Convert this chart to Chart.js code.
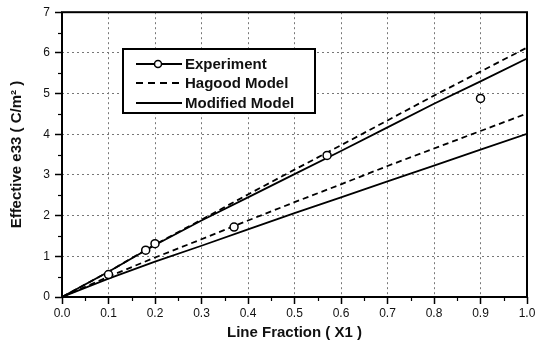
<!DOCTYPE html>
<html><head><meta charset="utf-8">
<script src="https://cdn.jsdelivr.net/npm/chart.js@4/dist/chart.umd.min.js"></script>
<style>html,body{margin:0;padding:0;background:#fff}#wrap{width:538px;height:350px}</style>
</head><body><div id="wrap"><canvas id="c" width="538" height="350"></canvas></div>
<script>
// Data
const lineFraction = [0, 0.1, 0.2, 0.3, 0.4, 0.5, 0.6, 0.7, 0.8, 0.9, 1.0];
const hagoodUpper   = [0, 0.62, 1.29, 1.90, 2.52, 3.13, 3.73, 4.34, 4.95, 5.54, 6.13];
const modifiedUpper = [0, 0.62, 1.28, 1.88, 2.45, 3.02, 3.59, 4.17, 4.75, 5.30, 5.86];
const hagoodLower   = [0, 0.50, 0.97, 1.42, 1.88, 2.33, 2.77, 3.22, 3.65, 4.08, 4.51];
const modifiedLower = [0, 0.45, 0.87, 1.26, 1.66, 2.06, 2.45, 2.84, 3.23, 3.62, 4.01];
const expX = [0.10, 0.18, 0.20, 0.37, 0.57, 0.90];
const expY = [0.55, 1.15, 1.31, 1.72, 3.48, 4.88];
const xTickLabels = ['0.0','0.1','0.2','0.3','0.4','0.5','0.6','0.7','0.8','0.9','1.0'];
const yTickLabels = ['0','1','2','3','4','5','6','7'];
const legendLabels = ['Experiment', 'Hagood Model', 'Modified Model'];

const pts = (xs, ys) => xs.map((x, i) => ({x: x, y: ys[i]}));

const framePlugin = {
  id: 'frameAndLegend',
  afterDatasetsDraw(chart) {
    const {ctx, chartArea: a, scales: {x, y}} = chart;
    ctx.save();
    // minor ticks
    ctx.strokeStyle = '#000'; ctx.lineWidth = 1.2; ctx.setLineDash([]);
    for (let v = 0.05; v < 1; v += 0.1) {
      const px = Math.round(x.getPixelForValue(v)) + 0.5;
      ctx.beginPath(); ctx.moveTo(px, a.bottom); ctx.lineTo(px, a.bottom + 4); ctx.stroke();
    }
    for (let v = 0.5; v < 7; v += 1) {
      const py = Math.round(y.getPixelForValue(v)) + 0.5;
      ctx.beginPath(); ctx.moveTo(a.left - 4, py); ctx.lineTo(a.left, py); ctx.stroke();
    }
    // frame
    ctx.lineWidth = 2; ctx.strokeStyle = '#000';
    ctx.strokeRect(a.left, a.top, a.right - a.left, a.bottom - a.top);
    // legend
    const bx = 123, by = 49, bw = 192, bh = 64;
    ctx.fillStyle = '#fff'; ctx.fillRect(bx, by, bw, bh);
    ctx.strokeRect(bx, by, bw, bh);
    const rows = [64, 83, 103];
    const x0 = 136, x1 = 182;
    ctx.lineWidth = 1.8;
    // experiment
    ctx.beginPath(); ctx.moveTo(x0, rows[0]); ctx.lineTo(x1, rows[0]); ctx.stroke();
    ctx.beginPath(); ctx.arc(158, rows[0], 3.5, 0, Math.PI * 2);
    ctx.fillStyle = '#fff'; ctx.fill(); ctx.lineWidth = 1.5; ctx.stroke();
    // hagood
    ctx.lineWidth = 1.8; ctx.setLineDash([7, 5]);
    ctx.beginPath(); ctx.moveTo(x0, rows[1]); ctx.lineTo(x1, rows[1]); ctx.stroke();
    ctx.setLineDash([]);
    ctx.beginPath(); ctx.moveTo(x0, rows[2]); ctx.lineTo(x1, rows[2]); ctx.stroke();
    ctx.fillStyle = '#111';
    ctx.font = 'bold 15px "Liberation Sans", Arial, sans-serif';
    ctx.textBaseline = 'middle'; ctx.textAlign = 'left';
    legendLabels.forEach((t, i) => ctx.fillText(t, 185, rows[i] + 1));
    ctx.restore();
  }
};

const solid = {borderColor: '#000', borderWidth: 1.8, pointRadius: 0, fill: false, tension: 0};
const dashed = Object.assign({}, solid, {borderDash: [6, 4]});

new Chart(document.getElementById('c'), {
  type: 'line',
  data: {
    datasets: [
      {label: legendLabels[0], data: pts(expX, expY), showLine: false, pointRadius: 4,
       pointBorderWidth: 1.5, pointBorderColor: '#000', pointBackgroundColor: '#fff', borderColor: '#000'},
      Object.assign({label: legendLabels[1], data: pts(lineFraction, hagoodUpper)}, dashed),
      Object.assign({label: legendLabels[1], data: pts(lineFraction, hagoodLower)}, dashed),
      Object.assign({label: legendLabels[2], data: pts(lineFraction, modifiedUpper)}, solid),
      Object.assign({label: legendLabels[2], data: pts(lineFraction, modifiedLower)}, solid)
    ]
  },
  options: {
    responsive: false, animation: false,
    layout: {padding: {top: 12, right: 11, left: 0, bottom: 0}},
    plugins: {legend: {display: false}, tooltip: {enabled: false}},
    scales: {
      x: {
        type: 'linear', min: 0, max: 1,
        afterFit(s) { s.height = 53; },
        afterBuildTicks(s) { s.ticks = xTickLabels.map(t => ({value: parseFloat(t)})); },
        ticks: {callback: (v, i) => xTickLabels[i], color: '#111', padding: 2, maxRotation: 0,
                font: {family: '"Liberation Sans", Arial, sans-serif', size: 12}},
        grid: {color: '#777', lineWidth: 1, tickLength: 7, tickColor: '#000', tickWidth: 1.5},
        border: {display: false, dash: [2, 3]},
        title: {display: true, text: 'Line Fraction ( X1 )', color: '#111', padding: {top: 0, bottom: 8},
                font: {family: '"Liberation Sans", Arial, sans-serif', size: 15, weight: 'bold'}}
      },
      y: {
        type: 'linear', min: 0, max: 7,
        afterFit(s) { s.width = 62; },
        afterBuildTicks(s) { s.ticks = yTickLabels.map(t => ({value: parseFloat(t)})); },
        ticks: {callback: (v, i) => yTickLabels[i], color: '#111', padding: 5,
                font: {family: '"Liberation Sans", Arial, sans-serif', size: 12}},
        grid: {color: '#777', lineWidth: 1, tickLength: 7, tickColor: '#000', tickWidth: 1.5},
        border: {display: false, dash: [2, 3]},
        title: {display: true, text: 'Effective e33 ( C/m² )', color: '#111', padding: {top: 8, bottom: 0},
                font: {family: '"Liberation Sans", Arial, sans-serif', size: 15, weight: 'bold'}}
      }
    }
  },
  plugins: [framePlugin]
});
</script></body></html>
